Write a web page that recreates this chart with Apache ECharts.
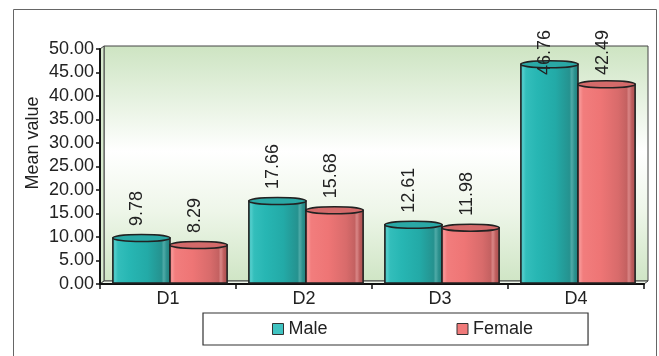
<!DOCTYPE html>
<html>
<head>
<meta charset="utf-8">
<script src="https://cdn.jsdelivr.net/npm/echarts@6/dist/echarts.min.js"></script>
<style>
  html, body { margin: 0; padding: 0; background: #fff; }
  #chart { width: 659px; height: 356px; }
</style>
</head>
<body>
<div id="chart"></div>
<script>
// Mean value per domain, by sex
const categories = ['D1', 'D2', 'D3', 'D4'];
const maleValues = [9.78, 17.66, 12.61, 46.76];
const femaleValues = [8.29, 15.68, 11.98, 42.49];
const seriesNames = ['Male', 'Female'];
const yTicks = { min: 0, max: 50, interval: 5 };

const FONT = '"Liberation Sans", Arial, Helvetica, sans-serif';
const FS = 18;
const TEXT = '#222';
const GRID = { left: 100, right: 15, top: 49, bottom: 72 };
const DEPTH = { dx: 4, dy: -3 };

// Cylinder palettes: side shading (left -> right) and cap colour
const palettes = [
  {
    legend: '#3fc3c1',
    cap: '#2aa8a5',
    side: [
      [0, '#2db1ae'], [0.05, '#52cdcb'], [0.1, '#33bebb'], [0.3, '#27b6b3'],
      [0.6, '#23aaa7'], [0.84, '#25928f'], [0.88, '#4eaaa7'], [0.93, '#2b908d'], [1, '#1e7d7a']
    ]
  },
  {
    legend: '#f07a7a',
    cap: '#d36a6a',
    side: [
      [0, '#e66c6c'], [0.05, '#f79595'], [0.1, '#f27d7d'], [0.4, '#ee7575'],
      [0.7, '#d86b6b'], [0.84, '#c46161'], [0.88, '#d98686'], [0.93, '#bd5c5c'], [1, '#a74f4f']
    ]
  }
];

const measureCtx = document.createElement('canvas').getContext('2d');
measureCtx.font = FS + 'px ' + FONT;

function cylinderRenderer(seriesIndex) {
  return function (params, api) {
    const cat = api.value(0);
    const val = api.value(1);
    const top = api.coord([cat, val]);
    const base = api.coord([cat, 0]);
    const band = api.size([1, 0])[0];
    const barW = band * 0.42;
    const center = top[0] + 2;
    const x = seriesIndex === 0 ? center - barW : center;
    const pal = palettes[seriesIndex];
    const ry = 3.5;
    const text = val.toFixed(2);
    const tw = measureCtx.measureText(text).width;
    // label sits above the cap, but is kept inside the frame
    const anchorY = Math.max(top[1] - 12, 30 + tw);
    return {
      type: 'group',
      children: [
        {
          type: 'rect',
          shape: { x: x, y: top[1], width: barW, height: base[1] - top[1] - 1 },
          style: {
            fill: { type: 'linear', x: 0, y: 0, x2: 1, y2: 0, colorStops: pal.side.map(s => ({ offset: s[0], color: s[1] })) },
            stroke: '#222', lineWidth: 1.6
          }
        },
        {
          type: 'ellipse',
          shape: { cx: x + barW / 2, cy: top[1], rx: barW / 2, ry: ry },
          style: { fill: pal.cap, stroke: '#222', lineWidth: 1.6 }
        },
        {
          type: 'text',
          x: x + barW / 2 - 4,
          y: anchorY,
          rotation: Math.PI / 2,
          style: {
            text: text, font: FS + 'px ' + FONT, fill: TEXT,
            align: 'left', verticalAlign: 'middle'
          },
          z2: 10
        }
      ]
    };
  };
}

const chart = echarts.init(document.getElementById('chart'), null, { renderer: 'canvas' });

const W = 659, H = 356;
const gx0 = GRID.left, gx1 = W - GRID.right, gy0 = GRID.top, gy1 = H - GRID.bottom;
const wallFill = {
  type: 'linear', x: 0, y: 0, x2: 0, y2: 1,
  colorStops: [
    { offset: 0, color: '#cde4c2' }, { offset: 0.3, color: '#eef6ea' },
    { offset: 0.45, color: '#ffffff' }, { offset: 0.7, color: '#eef6e9' },
    { offset: 1, color: '#cfe5c5' }
  ]
};

chart.setOption({
  animation: false,
  textStyle: { fontFamily: FONT },
  grid: { left: GRID.left, right: GRID.right, top: GRID.top, bottom: GRID.bottom, containLabel: false },
  graphic: [
    // outer frame
    { type: 'rect', shape: { x: 13.5, y: 9.5, width: 643, height: 360 }, style: { fill: 'none', stroke: '#666', lineWidth: 1 }, z: -10 },
    // back wall
    { type: 'rect', shape: { x: gx0 + DEPTH.dx, y: gy0 + DEPTH.dy, width: gx1 - gx0, height: gy1 - gy0 }, style: { fill: wallFill, stroke: '#444', lineWidth: 1 }, z: -5 },
    // left side wall
    { type: 'polygon', shape: { points: [[gx0, gy0], [gx0 + DEPTH.dx, gy0 + DEPTH.dy], [gx0 + DEPTH.dx, gy1 + DEPTH.dy], [gx0, gy1]] }, style: { fill: '#d8eacf', stroke: '#444', lineWidth: 1 }, z: -4 },
    // floor
    { type: 'polygon', shape: { points: [[gx0, gy1], [gx0 + DEPTH.dx, gy1 + DEPTH.dy], [gx1 + DEPTH.dx, gy1 + DEPTH.dy], [gx1, gy1]] }, style: { fill: '#eef6ea', stroke: '#444', lineWidth: 1 }, z: -4 },
    // y axis title
    { type: 'text', x: 33, y: 143, rotation: Math.PI / 2, style: { text: 'Mean value', font: FS + 'px ' + FONT, fill: TEXT, align: 'center', verticalAlign: 'middle' } }
  ],
  legend: {
    data: seriesNames,
    left: 203, top: 313,
    padding: [7, 55, 7, 69],
    itemGap: 129,
    itemWidth: 11, itemHeight: 11,
    icon: 'rect',
    borderColor: '#333', borderWidth: 1.2,
    textStyle: { fontSize: FS, color: TEXT, fontFamily: FONT },
    itemStyle: { borderColor: '#333', borderWidth: 1 }
  },
  xAxis: {
    type: 'category',
    data: categories,
    axisLine: { lineStyle: { color: '#111', width: 2 } },
    axisTick: { show: true, length: 5, lineStyle: { color: '#111', width: 1.5 } },
    axisLabel: { fontSize: FS, color: TEXT, margin: 6, fontFamily: FONT }
  },
  yAxis: {
    type: 'value',
    min: yTicks.min, max: yTicks.max, interval: yTicks.interval,
    axisLine: { show: true, lineStyle: { color: '#111', width: 2 } },
    axisTick: { show: true, length: 4, lineStyle: { color: '#111', width: 1.5 } },
    axisLabel: { fontSize: FS, color: TEXT, margin: 6, fontFamily: FONT, formatter: v => v.toFixed(2) },
    splitLine: { show: false }
  },
  series: [maleValues, femaleValues].map((vals, si) => ({
    type: 'custom',
    name: seriesNames[si],
    itemStyle: { color: palettes[si].legend },
    renderItem: cylinderRenderer(si),
    encode: { x: 0, y: 1 },
    data: vals.map((v, i) => [i, v]),
    z: 3
  }))
});
</script>
</body>
</html>
